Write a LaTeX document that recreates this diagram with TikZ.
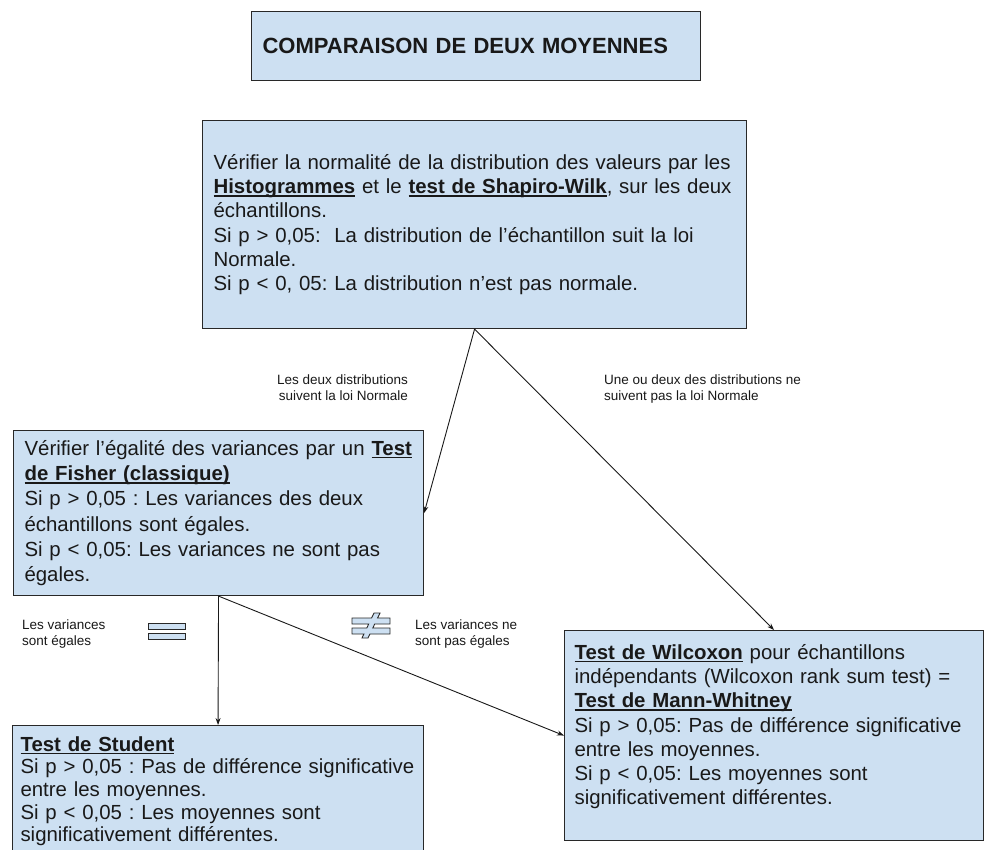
\documentclass[tikz,border=0pt]{standalone}
\usepackage{fontspec}
\setmainfont{Liberation Sans}
\usepackage{tikz}
\usetikzlibrary{arrows.meta,positioning}
\definecolor{boxfill}{RGB}{205,224,242}
\definecolor{boxline}{RGB}{40,40,40}
\definecolor{ink}{RGB}{25,25,25}
\newcommand{\ulbf}[1]{\leavevmode\setbox0\hbox{\textbf{#1}}\rlap{\rule[-3pt]{\wd0}{1.5pt}}\box0\relax}
\frenchspacing

\begin{document}
\begin{tikzpicture}[x=1pt,y=-1pt,
  box/.style={draw=boxline,fill=boxfill,line width=1.1pt,text=ink,align=left,inner sep=0pt,anchor=north west,font=\fontsize{20.4}{24.2}\selectfont},
  lbl/.style={inner sep=0pt,text=ink,align=left,font=\fontsize{13.5}{16}\selectfont},
  arr/.style={-{Stealth[length=7pt,width=5pt]},line width=0.9pt,draw=ink},
  symb/.style={draw=boxline,fill=boxfill,line width=0.9pt}]
  \fill[white] (0,0) rectangle (987,849);
  \useasboundingbox (0,0) rectangle (987,849);
  \clip (0,0) rectangle (987,849);
  \node[box,minimum width=449pt,minimum height=69pt,text width=427pt,font=\fontsize{22}{26}\selectfont\bfseries] (title) at (251,11) {COMPARAISON DE DEUX MOYENNES};
  \node[box,minimum width=544pt,minimum height=208pt,text width=522pt] (norm) at (202,120) {Vérifier la normalité de la distribution des valeurs par les\\
    \ulbf{Histogrammes} et le \ulbf{test de Shapiro-Wilk}, sur les deux\\
    échantillons.\\
    Si p > 0,05:~ La distribution de l’échantillon suit la loi\\
    Normale.\\
    Si p < 0, 05: La distribution n’est pas normale.};
  \node[box,minimum width=410pt,minimum height=165pt,text width=388pt,font=\fontsize{20.4}{25.2}\selectfont] (fisher) at (13,430) {Vérifier l’égalité des variances par un \ulbf{Test}\\
    \ulbf{de Fisher (classique)}\\
    Si p > 0,05 : Les variances des deux\\
    échantillons sont égales.\\
    Si p < 0,05: Les variances ne sont pas\\
    égales.};
  \node[box,minimum width=411pt,text width=395pt,inner ysep=11pt,font=\fontsize{20.4}{22.6}\selectfont] (student) at (12,725) {\ulbf{Test de Student}\\
    Si p > 0,05 : Pas de différence significative\\
    entre les moyennes.\\
    Si p < 0,05 : Les moyennes sont\\
    significativement différentes.};
  \node[box,minimum width=419pt,minimum height=210pt,text width=399pt] (wilcox) at (564,630) {\ulbf{Test de Wilcoxon} pour échantillons\\
    indépendants (Wilcoxon rank sum test) =\\
    \ulbf{Test de Mann-Whitney}\\
    Si p > 0,05: Pas de différence significative\\
    entre les moyennes.\\
    Si p < 0,05: Les moyennes sont\\
    significativement différentes.\rule[-22pt]{0pt}{0pt}};
  \node[lbl,anchor=north east,align=right] (ldeux) at (408,375) {Les deux distributions\\suivent la loi Normale};
  \node[lbl,anchor=north west] (lune) at (604,375) {Une ou deux des distributions ne\\suivent pas la loi Normale};
  \node[lbl,anchor=north west] (legal) at (22,620) {Les variances\\sont égales};
  \node[lbl,anchor=north west] (lnon) at (415,620) {Les variances ne\\sont pas égales};
  \draw[arr] (norm.south) -- (fisher.east);
  \draw[arr] (norm.south) -- (wilcox.north);
  \draw[arr] (fisher.south) -- (student.north);
  \draw[arr] (fisher.south) -- (wilcox.west);
  \foreach \y in {623,633} \draw[symb] (148,\y) rectangle +(37,6);
  \draw[symb] (374,613) -- (380,613) -- (377.6,618) -- (390,618) -- (390,624) -- (374.7,624)
    -- (372.8,628) -- (390,628) -- (390,634) -- (369.9,634) -- (368,638) -- (362,638)
    -- (363.9,634) -- (352,634) -- (352,628) -- (366.8,628) -- (368.7,624) -- (352,624)
    -- (352,618) -- (371.6,618) -- cycle;
\end{tikzpicture}
\end{document}
